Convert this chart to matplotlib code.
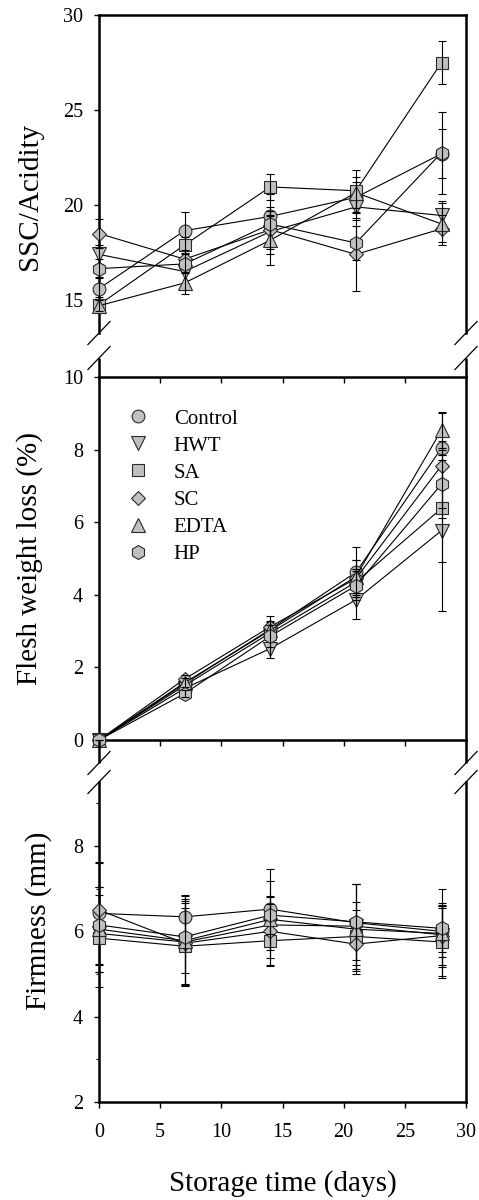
import matplotlib
matplotlib.use("Agg")
import matplotlib.pyplot as plt
from matplotlib.lines import Line2D

plt.rcParams["font.family"] = ["Liberation Serif", "DejaVu Serif"]

# ---- data -------------------------------------------------------------
days = [0, 7, 14, 21, 28]
treatments = ["Control", "HWT", "SA", "SC", "EDTA", "HP"]

# SSC / titratable acidity ratio
ssc_control = [15.6, 18.65, 19.4, 20.4, 22.7]
ssc_hwt = [17.4, 16.5, 18.6, 19.9, 19.45]
ssc_sa = [14.75, 17.9, 20.95, 20.75, 27.5]
ssc_sc = [18.5, 17.15, 18.7, 17.4, 18.75]
ssc_edta = [14.7, 15.9, 18.15, 20.65, 19.0]
ssc_hp = [16.65, 16.9, 19.0, 18.0, 22.75]

ssc_control_sd = [0.6, 1.0, 0.5, 0.8, 1.3]
ssc_hwt_sd = [0.5, 0.6, 0.8, 0.7, 0.75]
ssc_sa_sd = [0.4, 0.4, 0.7, 1.1, 1.15]
ssc_sc_sd = [0.75, 0.5, 1.0, 1.9, 0.7]
ssc_edta_sd = [0.3, 0.6, 1.3, 0.8, 1.1]
ssc_hp_sd = [0.5, 0.5, 1.6, 0.9, 2.15]

# flesh weight loss (%)
wl_control = [0, 1.55, 3.05, 4.62, 8.04]
wl_hwt = [0, 1.42, 2.52, 3.86, 5.77]
wl_sa = [0, 1.5, 2.95, 4.35, 6.38]
wl_sc = [0, 1.68, 3.12, 4.45, 7.56]
wl_edta = [0, 1.58, 3.02, 4.5, 8.54]
wl_hp = [0, 1.28, 2.86, 4.25, 7.05]

wl_control_sd = [0, 0.1, 0.2, 0.7, 0.2]
wl_hwt_sd = [0, 0.15, 0.25, 0.54, 2.22]
wl_sa_sd = [0, 0.1, 0.2, 0.35, 1.47]
wl_sc_sd = [0, 0.1, 0.3, 0.5, 1.45]
wl_edta_sd = [0, 0.12, 0.25, 0.45, 0.5]
wl_hp_sd = [0, 0.1, 0.3, 0.4, 0.65]

# firmness (mm)
fm_control = [6.42, 6.34, 6.52, 6.2, 6.0]
fm_hwt = [5.95, 5.75, 6.15, 6.12, 5.92]
fm_sa = [5.84, 5.65, 5.78, 5.88, 5.75]
fm_sc = [6.5, 5.72, 6.0, 5.7, 5.9]
fm_edta = [6.05, 5.78, 6.28, 6.05, 5.95]
fm_hp = [6.15, 5.87, 6.38, 6.22, 6.07]

fm_control_sd = [1.2, 0.5, 0.95, 0.3, 0.6]
fm_hwt_sd = [0.9, 1.0, 0.5, 1.0, 0.75]
fm_sa_sd = [0.6, 0.9, 0.6, 0.8, 0.8]
fm_sc_sd = [0.55, 0.95, 0.8, 0.5, 0.7]
fm_edta_sd = [1.0, 1.05, 0.9, 1.05, 1.05]
fm_hp_sd = [1.45, 0.85, 0.45, 0.9, 0.55]

ssc_means = [ssc_control, ssc_hwt, ssc_sa, ssc_sc, ssc_edta, ssc_hp]
ssc_sds = [ssc_control_sd, ssc_hwt_sd, ssc_sa_sd, ssc_sc_sd, ssc_edta_sd, ssc_hp_sd]
wl_means = [wl_control, wl_hwt, wl_sa, wl_sc, wl_edta, wl_hp]
wl_sds = [wl_control_sd, wl_hwt_sd, wl_sa_sd, wl_sc_sd, wl_edta_sd, wl_hp_sd]
fm_means = [fm_control, fm_hwt, fm_sa, fm_sc, fm_edta, fm_hp]
fm_sds = [fm_control_sd, fm_hwt_sd, fm_sa_sd, fm_sc_sd, fm_edta_sd, fm_hp_sd]

# ---- styling ----------------------------------------------------------
markers = ["o", "v", "s", "D", "^", "h"]
msizes = [9.2, 10, 8.5, 7.5, 10, 10]
FACE = "#c0c0c0"
EDGE = "#2a2a2a"
SPINE_LW = 1.8
TICK_FS = 14.5
LABEL_FS = 21

W, H = 479, 1200
fig = plt.figure(figsize=(W / 100, H / 100), dpi=100)


def fx(px):
    return px / W


def fy(py):
    return 1 - py / H


X0, X1 = 99, 466
ax1 = fig.add_axes([fx(X0), fy(377), (X1 - X0) / W, (377 - 15) / H])
ax2 = fig.add_axes([fx(X0), fy(740), (X1 - X0) / W, (740 - 377) / H])
ax3 = fig.add_axes([fx(X0), fy(1102), (X1 - X0) / W, (1102 - 740) / H])


def draw_series(ax, means, sds):
    for i, (m, s) in enumerate(zip(means, sds)):
        z = 3 + i
        ax.plot(days, m, color="black", lw=0.8, marker=markers[i],
                ms=msizes[i], mfc=FACE, mec=EDGE, mew=0.8,
                zorder=z, clip_on=False)
        ax.errorbar(days, m, yerr=s, fmt="none", ecolor="black",
                    elinewidth=0.8, capsize=3.2, capthick=0.8,
                    zorder=z + 0.5, clip_on=False)


draw_series(ax1, ssc_means, ssc_sds)
draw_series(ax2, wl_means, wl_sds)
draw_series(ax3, fm_means, fm_sds)

for ax in (ax1, ax2, ax3):
    ax.set_xlim(0, 30)
    ax.patch.set_visible(False)
    for sp in ax.spines.values():
        sp.set_linewidth(SPINE_LW)
    ax.tick_params(axis="y", which="major", direction="out", length=3.5,
                   width=1.0, pad=8, labelsize=TICK_FS, right=False)
    ax.tick_params(axis="x", labelsize=TICK_FS)

# top panel: SSC/acidity
ax1.set_ylim(30 - 362 / 19, 30)
ax1.set_yticks([15, 20, 25, 30])
ax1.spines["bottom"].set_visible(False)
y_brk1 = 30 - (333 - 15) / 19
ax1.spines["left"].set_bounds(y_brk1, 30)
ax1.spines["right"].set_bounds(y_brk1, 30)
ax1.tick_params(axis="x", bottom=False, top=False, labelbottom=False)

# middle panel: weight loss
ax2.set_ylim(0, 10)
ax2.set_yticks([0, 2, 4, 6, 8, 10])
ax2.set_xticks([0, 5, 10, 15, 20, 25, 30])
ax2.tick_params(axis="x", bottom=True, top=True, direction="out", length=4,
                width=1.0, labelbottom=False)
for t in ax2.xaxis.get_major_ticks():
    t.tick2line.set_marker(3)  # top ticks point down into the panel
    t.tick2line.set_markersize(4)

# bottom panel: firmness
ax3.set_ylim(2, 2 + 362 / 42.67)
ax3.set_yticks([2, 4, 6, 8])
ax3.set_yticks([3, 5, 7, 9], minor=True)
ax3.tick_params(axis="y", which="minor", direction="out", length=2,
                width=0.8, right=False)
ax3.spines["top"].set_visible(False)
y_brk3 = 2 + (1102 - 782) / 42.67
ax3.spines["left"].set_bounds(2, y_brk3)
ax3.spines["right"].set_bounds(2, y_brk3)
ax3.set_xticks([0, 5, 10, 15, 20, 25, 30])
ax3.tick_params(axis="x", direction="out", length=4, width=1.0, pad=11,
                top=False)
ax3.set_xlabel("Storage time (days)", fontsize=LABEL_FS, labelpad=20.5)

# axis titles
for ax, text, cx in ((ax1, "SSC/Acidity", 30), (ax2, "Flesh weight loss (%)", 30),
                     (ax3, "Firmness (mm)", 39)):
    ax.set_ylabel(text, fontsize=LABEL_FS, va="center")
    ax.yaxis.set_label_coords((cx - X0) / (X1 - X0), 0.5)

# spine pieces bridging the panels and the double-slash axis breaks
def seg(x0, y0, x1, y1, lw):
    fig.add_artist(Line2D([fx(x0), fx(x1)], [fy(y0), fy(y1)], color="black",
                          lw=lw, transform=fig.transFigure, solid_capstyle="butt"))


for xs in (X0, X1):
    seg(xs, 358, xs, 377, SPINE_LW)
    seg(xs, 740, xs, 763, SPINE_LW)
    for cy in (333, 358, 763, 782):
        seg(xs - 11.5, cy + 12, xs + 11.5, cy - 12, 0.9)

# legend
handles = [Line2D([], [], ls="none", marker=markers[i], ms=msizes[i], mfc=FACE,
                  mec=EDGE, mew=0.8) for i in range(len(treatments))]
ax2.legend(handles, treatments, loc="upper left",
           bbox_to_anchor=((128 - X0) / (X1 - X0), (740 - 409) / 363),
           frameon=False, fontsize=15, handlelength=1.0, handletextpad=1.2,
           labelspacing=0.36, borderpad=0, borderaxespad=0)

fig.savefig("out.png", dpi=100)
